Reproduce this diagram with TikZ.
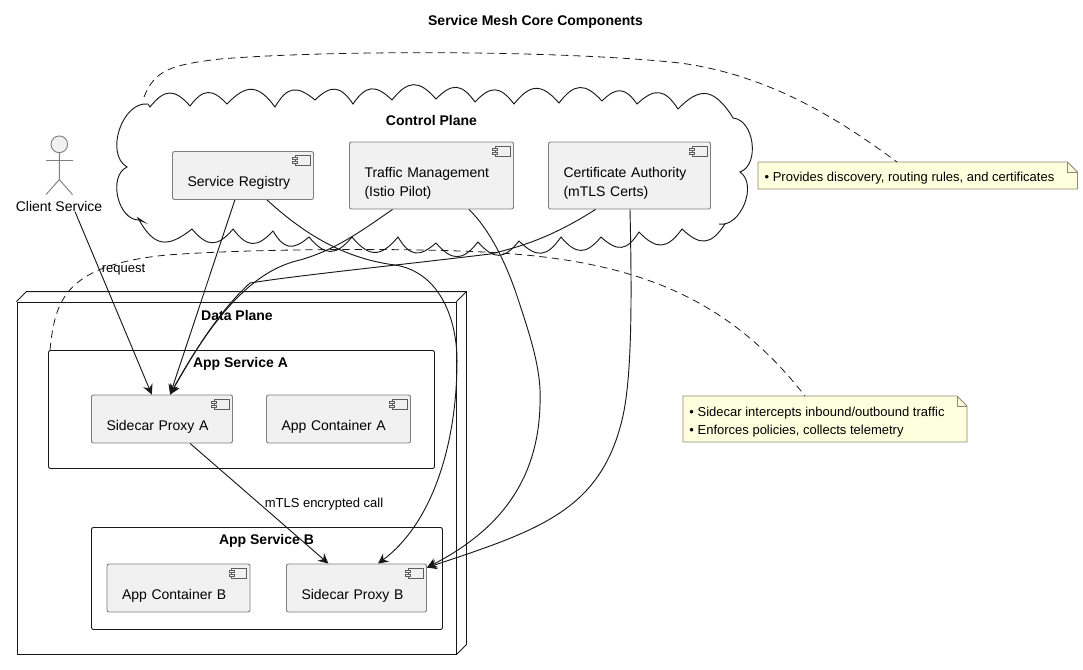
\documentclass[tikz,border=0pt]{standalone}
\usepackage{fontspec}
\setmainfont{Liberation Sans}
\usetikzlibrary{calc,arrows.meta,fit,backgrounds}
\definecolor{meshInk}{HTML}{181818}
\definecolor{meshEdge}{HTML}{7F7F7F}
\definecolor{meshFill}{HTML}{F1F1F1}
\definecolor{meshNote}{HTML}{FEFFDD}
\definecolor{meshNoteEdge}{HTML}{8A8A70}

\begin{document}
\begin{tikzpicture}[x=0.75pt,y=-0.75pt,
      comp/.style 2 args={rectangle, rounded corners=1.5pt, draw=meshEdge, line width=0.7pt, fill=meshFill,
                 minimum width=#1*0.75pt, minimum height=#2*0.75pt, text width={(#1-30)*0.75pt},
                 inner xsep=11.25pt, inner ysep=0pt, align=left,
                 font=\fontsize{10.5}{14.25}\selectfont, execute at begin node={\rule{0pt}{19pt}}},
      group/.style 2 args={rectangle, rounded corners=1.5pt, draw=meshInk, line width=0.7pt,
                 minimum width=#1*0.75pt, minimum height=#2*0.75pt, inner sep=0pt},
      head/.style={font=\fontsize{10.5}{12}\selectfont\bfseries, inner sep=0pt},
      tag/.style={font=\fontsize{9.75}{12}\selectfont, inner sep=0pt},
      notetext/.style={font=\fontsize{9.75}{13.5}\selectfont, inner sep=0pt, align=left},
      notebox/.style={draw=meshNoteEdge, line width=0.6pt, fill=meshNote},
      icon/.style={draw=meshInk!70, line width=0.45pt, fill=meshFill},
      wire/.style={draw=meshInk, line width=0.7pt, -{Stealth[length=7.5pt,width=7.5pt,inset=2.5pt]}},
      noteline/.style={draw=meshInk, line width=0.6pt, dash pattern=on 5.5pt off 3.75pt},
      cloudline/.style={draw=meshInk, line width=0.7pt},
      actorline/.style={draw=meshEdge, line width=0.7pt},
      nodeline/.style={draw=meshInk, line width=0.7pt}]
    \useasboundingbox (0,0) rectangle (1083,669);
    \node[head] (title) at (535.5,22) {Service Mesh Core Components};

    % control plane
    \draw[cloudline] (150,107)
      foreach \x/\y in {190/106,227/104,275/107,315/100,353/104,392/100,436/99,475/102,514/104,
                        559/103,602/101,637/104,678/109,730/113}
        { to[bend left=50, looseness=1.5] (\x,\y) }
      -- (733,118)
      foreach \x/\y in {740/172,719/224}
        { to[bend left=78] (\x,\y) }
      -- (725,224)
      foreach \x/\y in {682/229,639/232,601/237,561/237,519/241,478/242,436/243,398/237,352/237,
                        309/237,273/231,233/229,192/229,138/218}
        { to[bend left=50, looseness=1.5] (\x,\y) }
      -- (144,222) -- (139,220)
      foreach \x/\y in {127/167,148/104}
        { to[bend left=78] (\x,\y) }
      -- cycle;
    \coordinate (cloudtop) at (144,97);
    \node[head] (ctrl) at (431.5,120) {Control Plane};
    \node[comp={141}{48}] (reg) at (243,175.5) {Service Registry};
    \node[comp={164}{67}] (traf) at (431.5,175.5) {Traffic Management\\(Istio Pilot)};
    \node[comp={162}{67}] (cert) at (629.5,175.5) {Certificate Authority\\(mTLS Certs)};

    % client
    \node[circle, draw=meshEdge, line width=0.7pt, fill=meshFill, minimum size=12.5pt, inner sep=0pt] (face) at (59.3,144.3) {};
    \node[tag, font=\fontsize{10.5}{12}\selectfont] (clientname) at (59,206) {Client Service};
    \node[fit=(face)(clientname), inner sep=0pt] (client) {};
    \draw[actorline] (face.south) -- ++(0,26.5) coordinate (hip) -- ++(-13.3,15);
    \draw[actorline] (hip) -- ++(13.3,15);
    \draw[actorline] (46,160) -- (72.6,160);

    % data plane
    \node[group={439}{352}, rounded corners=0pt] (data) at (236.5,478) {};
    \draw[nodeline] (data.north west) -- ++(10,-10) -- ($(data.north east)+(10,-10)$) -- ($(data.south east)+(10,-10)$) -- (data.south east);
    \draw[nodeline] ($(data.north east)+(10,-10)$) -- (data.north east);
    \node[head] (datalabel) at (237,315) {Data Plane};
    \node[group={386}{118}] (svcA) at (241.5,409.5) {};
    \node[head] (svcAlabel) at (240.5,364) {App Service A};
    \node[group={351}{102}] (svcB) at (267,578.5) {};
    \node[head] (svcBlabel) at (266.5,541) {App Service B};
    \node[comp={141}{48}] (pxA) at (162,419) {Sidecar Proxy A};
    \node[comp={144}{48}] (conA) at (338.5,419) {App Container A};
    \node[comp={143}{48}] (conB) at (178.5,588) {App Container B};
    \node[comp={140}{48}] (pxB) at (356.5,588) {Sidecar Proxy B};

    \foreach \n in {reg,traf,cert,pxA,conA,conB,pxB}
      {\draw[icon] ($(\n.north east)+(-19,4.5)$) rectangle ($(\n.north east)+(-4,14.5)$);
       \draw[icon] ($(\n.north east)+(-21.5,6.5)$) rectangle ($(\n.north east)+(-16.5,8.5)$);
       \draw[icon] ($(\n.north east)+(-21.5,10.5)$) rectangle ($(\n.north east)+(-16.5,12.5)$);}

    % notes
    \node[notetext] (noteA) at (909.5,178) {\textbullet\ Provides discovery, routing rules, and certificates};
    \node[notetext] (noteB) at (817,422.5) {\textbullet\ Sidecar intercepts inbound/outbound traffic\\\textbullet\ Enforces policies, collects telemetry};
    \coordinate (noteAnw) at (758,162);
    \coordinate (noteAse) at (1077.5,189);
    \coordinate (noteBnw) at (683,396);
    \coordinate (noteBse) at (967,442);
    \begin{scope}[on background layer]
      \foreach \p/\q in {noteAnw/noteAse,noteBnw/noteBse}
        {\draw[notebox] (\p) -- ($(\p -| \q)+(-10,0)$) -- ($(\p -| \q)+(0,10)$) -- (\q) -- (\q -| \p) -- cycle;
         \draw[notebox, fill=none] ($(\p -| \q)+(-10,0)$) -- ($(\p -| \q)+(-10,10)$) -- ($(\p -| \q)+(0,10)$);}
    \end{scope}
    \coordinate (noteAtip) at (897,162);
    \coordinate (noteBtip) at (805,396);
    \coordinate (svcAtip) at (50,350);
    \draw[noteline] (cloudtop) .. controls (155,70) and (170,65) .. (220,59)
      .. controls (330,50) and (560,50) .. (680,63)
      .. controls (770,75) and (840,120) .. (noteAtip);
    \draw[noteline] (svcAtip) .. controls (55,300) and (65,265) .. (167,255)
      .. controls (260,248) and (430,248) .. (500,253)
      .. controls (640,262) and (730,300) .. (noteBtip);

    % links
    \draw[wire] (client) -- (pxA);
    \node[tag] (reqlabel) at (123.5,269.5) {request};
    \draw[wire] (reg) -- (pxA);
    \draw[wire] ($(traf.south)+(-39,0)$) .. controls (360,232) and (335,250) .. (300,260)
      .. controls (265,268) and (225,295) .. ($(pxA.north)+(8,0)$);
    \draw[wire] ($(cert.south)+(-34,0)$) .. controls (560,232) and (530,245) .. (490,254)
      .. controls (400,265) and (300,275) .. (250,283)
      .. controls (215,315) and (190,360) .. ($(pxA.north)+(8,0)$);
    \draw[wire] ($(reg.south)+(24,0)$) .. controls (300,230) and (340,258) .. (395,265)
      .. controls (440,272) and (458,320) .. (457,365)
      .. controls (456,450) and (430,525) .. ($(pxB.north)+(21.5,0)$);
    \draw[wire] ($(traf.south)+(37.5,0)$) .. controls (490,230) and (505,262) .. (515,290)
      .. controls (530,335) and (542,370) .. (540,405)
      .. controls (538,480) and (500,530) .. ($(pxB.north east)+(0,4)$);
    \draw[wire] ($(cert.south)+(0.5,0)$) .. controls (632,300) and (632,380) .. (622,420)
      .. controls (600,510) and (540,530) .. ($(pxB.north east)+(0,4)$);
    \draw[wire] (pxA) -- (pxB);
    \node[tag] (mtlslabel) at (324,504.5) {mTLS encrypted call};
  \end{tikzpicture}
\end{document}
